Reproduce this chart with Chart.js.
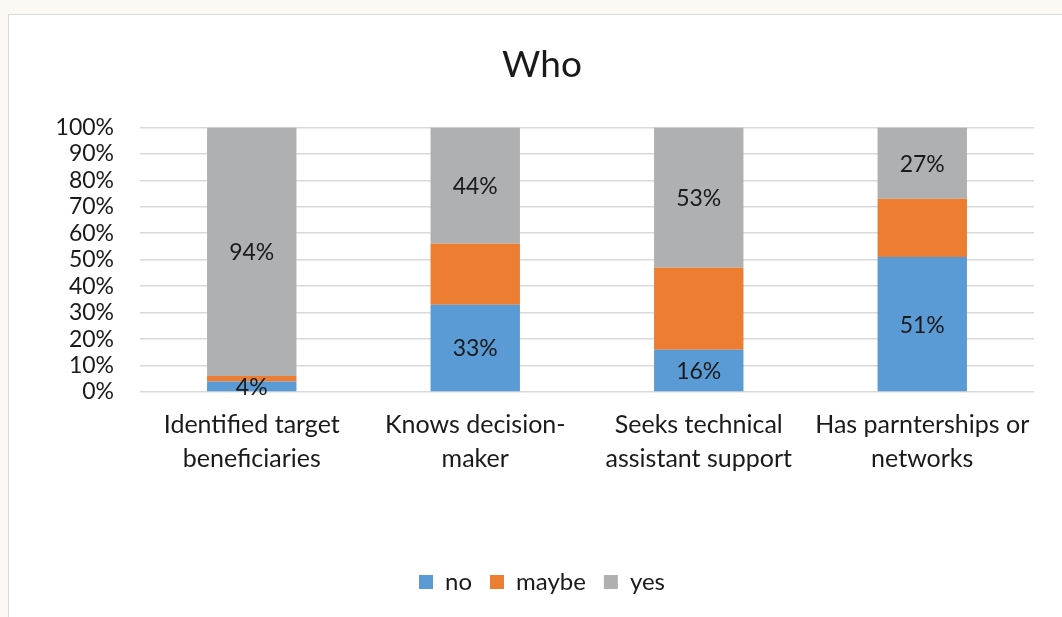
<!DOCTYPE html>
<html>
<head>
<meta charset="utf-8">
<script src="https://cdn.jsdelivr.net/npm/chart.js@4"></script>
<style>
  html, body { margin: 0; padding: 0; background: #fcf8f4; overflow: hidden; }
  #box {
    position: absolute; left: 8px; top: 14px;
    width: 1066px; height: 610px;
    background: #fff; border: 1px solid #d9d9d9;
  }
  #c { display: block; }
</style>
</head>
<body>
<div id="box"><canvas id="c" width="1066" height="603"></canvas></div>
<script>
// categories (split into lines the way they wrap under the axis)
const categories = [
  ['Identified target', 'beneficiaries'],
  ['Knows decision-', 'maker'],
  ['Seeks technical', 'assistant support'],
  ['Has parnterships or', 'networks']
];
const noValues    = [4, 33, 16, 51];
const maybeValues = [2, 23, 31, 22];
const yesValues   = [94, 44, 53, 27];
const yTicks = [0, 10, 20, 30, 40, 50, 60, 70, 80, 90, 100];

const FONT = 'Lato, "Open Sans", sans-serif';
const TEXT = '#1a1a1a';

// writes the percentage in the middle of each "no" and "yes" segment
const segmentLabels = {
  id: 'segmentLabels',
  afterDatasetsDraw(chart) {
    const ctx = chart.ctx;
    ctx.save();
    ctx.font = '23px ' + FONT;
    ctx.fillStyle = TEXT;
    ctx.textAlign = 'center';
    ctx.textBaseline = 'middle';
    [0, 2].forEach(i => {
      const meta = chart.getDatasetMeta(i);
      meta.data.forEach((bar, j) => {
        const v = chart.data.datasets[i].data[j];
        ctx.fillText(v + '%', bar.x, (bar.y + bar.base) / 2 + 1);
      });
    });
    ctx.restore();
  }
};

const ctx = document.getElementById('c').getContext('2d');
const myChart = new Chart(ctx, {
  type: 'bar',
  data: {
    labels: categories,
    datasets: [
      { label: 'no',    data: noValues,    backgroundColor: '#5b9bd5' },
      { label: 'maybe', data: maybeValues, backgroundColor: '#ed7d31' },
      { label: 'yes',   data: yesValues,   backgroundColor: '#afb0b2' }
    ]
  },
  options: {
    responsive: false,
    animation: false,
    layout: { padding: { left: 41, right: 41, top: 0, bottom: 14 } },
    datasets: { bar: { categoryPercentage: 0.4, barPercentage: 1 } },
    plugins: {
      title: {
        display: true, text: 'Who', color: TEXT,
        font: { family: FONT, size: 37, weight: 'normal' },
        padding: { top: 28, bottom: 40 }
      },
      legend: {
        position: 'bottom',
        labels: {
          color: TEXT, boxWidth: 14, boxHeight: 14, padding: 18,
          font: { family: FONT, size: 24 }
        }
      },
      tooltip: { enabled: false }
    },
    scales: {
      x: {
        stacked: true,
        grid: { display: false },
        border: { display: false },
        ticks: {
          color: TEXT, padding: 8, maxRotation: 0,
          font: { family: FONT, size: 25, lineHeight: 1.35 }
        },
        afterFit(scale) { scale.height = 160; }
      },
      y: {
        stacked: true, min: 0, max: 100,
        afterBuildTicks(scale) { scale.ticks = yTicks.map(v => ({ value: v })); },
        afterFit(scale) { scale.width = 90; },
        grid: { color: '#d9d9d9', lineWidth: 1.5, drawTicks: false },
        border: { display: false },
        ticks: {
          color: TEXT, padding: 26, autoSkip: false, stepSize: 10,
          font: { family: FONT, size: 23 },
          callback: v => v + '%'
        }
      }
    }
  },
  plugins: [segmentLabels]
});
</script>
</body>
</html>
